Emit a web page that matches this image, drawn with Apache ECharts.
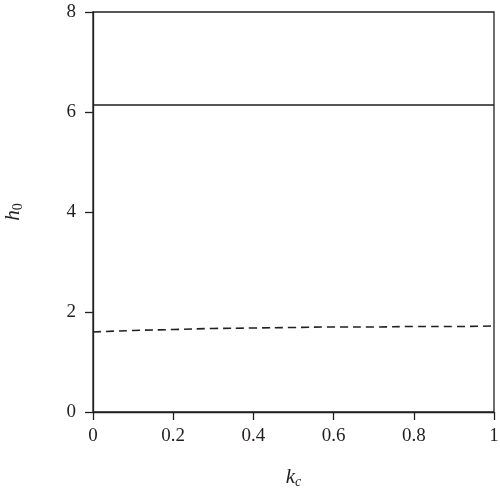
<!DOCTYPE html>
<html>
<head>
<meta charset="utf-8">
<script src="https://cdn.jsdelivr.net/npm/echarts@6/dist/echarts.min.js"></script>
<style>html,body{margin:0;padding:0;background:#fff}#c{width:500px;height:496px}</style>
</head>
<body>
<div id="c"></div>
<script>
const kc = [0, 0.1, 0.2, 0.3, 0.4, 0.5, 0.6, 0.7, 0.8, 0.9, 1.0];
const h0Solid = [6.14, 6.14, 6.14, 6.14, 6.14, 6.14, 6.14, 6.14, 6.14, 6.14, 6.14];
const h0Dashed = [1.60, 1.63, 1.65, 1.67, 1.68, 1.69, 1.70, 1.70, 1.71, 1.71, 1.72];
const xTicks = [0, 0.2, 0.4, 0.6, 0.8, 1];
const yTicks = [0, 2, 4, 6, 8];

const font = '"Liberation Serif", "DejaVu Serif", serif';
const ink = '#231f20';
const chart = echarts.init(document.getElementById('c'), null, {renderer: 'canvas'});
chart.setOption({
  animation: false,
  backgroundColor: '#fff',
  grid: {left: 93, right: 6, top: 12, bottom: 84, containLabel: false, outerBoundsMode: 'none',
    show: true, borderColor: ink, borderWidth: 1.3, backgroundColor: 'transparent'},
  xAxis: {
    type: 'value', min: 0, max: 1, interval: 0.2,
    name: '{k|k}{s|c}', nameLocation: 'middle', nameGap: 54,
    nameTextStyle: {rich: {k: {fontFamily: font, fontStyle: 'italic', fontSize: 21, color: ink}, s: {fontFamily: font, fontStyle: 'italic', fontSize: 14, color: ink, verticalAlign: 'bottom', padding: [9, 0, 0, 0]}}},
    axisLine: {show: true, onZero: false, lineStyle: {color: ink, width: 1.3}},
    axisTick: {show: true, inside: false, length: 8, lineStyle: {color: ink, width: 1.3}},
    axisLabel: {fontFamily: font, fontSize: 19, color: ink, margin: 15, hideOverlap: false,
      formatter: v => xTicks.includes(Math.round(v*10)/10) ? String(Math.round(v*10)/10) : ''},
    splitLine: {show: false}
  },
  yAxis: {
    type: 'value', min: 0, max: 8, interval: 2,
    name: '{h|h}{s|0}', nameLocation: 'middle', nameGap: 68, nameRotate: 90,
    nameTextStyle: {rich: {h: {fontFamily: font, fontStyle: 'italic', fontSize: 21, color: ink}, s: {fontFamily: font, fontSize: 14, color: ink, verticalAlign: 'bottom', padding: [9, 0, 0, 0]}}},
    axisLine: {show: true, onZero: false, lineStyle: {color: ink, width: 1.3}},
    axisTick: {show: true, inside: false, length: 8, lineStyle: {color: ink, width: 1.3}},
    axisLabel: {fontFamily: font, fontSize: 19, color: ink, margin: 17,
      formatter: v => yTicks.includes(v) ? String(v) : ''},
    splitLine: {show: false}
  },
  series: [
    {type: 'line', data: kc.map((x, i) => [x, h0Solid[i]]), showSymbol: false, symbol: 'none',
      lineStyle: {color: ink, width: 1.5, type: 'solid'}},
    {type: 'line', data: kc.map((x, i) => [x, h0Dashed[i]]), showSymbol: false, symbol: 'none', smooth: true,
      lineStyle: {color: ink, width: 1.6, type: [8, 5]}}
  ]
});
</script>
</body>
</html>
